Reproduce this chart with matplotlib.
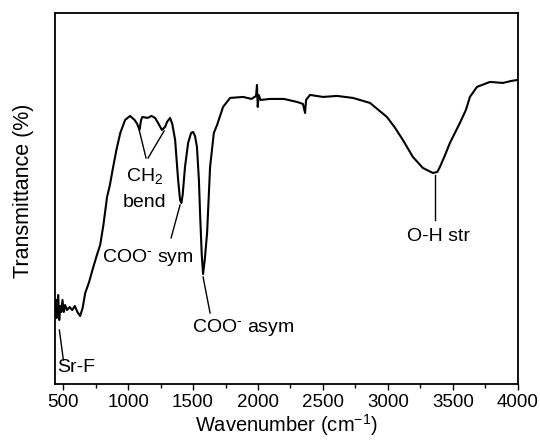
import matplotlib
matplotlib.use("Agg")
import matplotlib.pyplot as plt
from matplotlib.ticker import MultipleLocator

plt.rcParams['font.family'] = ['Liberation Sans', 'DejaVu Sans']
plt.rcParams['mathtext.fontset'] = 'custom'
plt.rcParams['mathtext.rm'] = 'Liberation Sans'
plt.rcParams['mathtext.it'] = 'Liberation Sans:italic'
plt.rcParams['mathtext.bf'] = 'Liberation Sans:bold'

wavenumber = [438, 445, 450, 455, 462, 470, 478, 485, 495, 505, 515, 530, 550, 570, 590, 610, 631,
              650, 670, 700, 730, 760, 785, 810, 830, 838, 860, 885, 910, 940, 977, 1015, 1050,
              1070, 1088, 1100, 1110, 1150, 1180, 1208, 1235, 1260, 1285, 1300, 1323, 1340, 1362,
              1385, 1400, 1410, 1420, 1438, 1462, 1485, 1500, 1515, 1530, 1545, 1555, 1567, 1577,
              1590, 1608, 1631, 1660, 1685, 1731, 1785, 1885, 1950, 1985, 1992, 1998, 2005, 2020,
              2092, 2200, 2300, 2346, 2362, 2370, 2400, 2500, 2608, 2731, 2862, 2992, 3050, 3115,
              3192, 3269, 3346, 3380, 3400, 3440, 3477, 3554, 3600, 3631, 3685, 3785, 3885, 3950, 4000]
ypix = [310, 300, 318, 305, 295, 320, 306, 312, 300, 312, 305, 310, 307, 310, 306, 312, 316,
        308, 293, 282, 268, 255, 245, 225, 205, 197, 185, 167, 150, 133, 120, 116, 120,
        124, 130, 120, 117, 118, 116, 118, 124, 130, 127, 122, 118, 124, 140,
        180, 200, 203, 195, 167, 143, 133, 132, 136, 147, 180, 217, 255, 274,
        260, 233, 167, 133, 125, 107, 98, 97, 99, 96, 85, 107, 95, 100,
        99, 99, 102, 104, 113, 100, 95, 97, 96, 98, 103, 117, 127, 140,
        157, 168, 173, 172, 167, 155, 143, 123, 110, 97, 87, 82, 83, 81, 80]
transmittance = [384 - v for v in ypix]

xticks = [500, 1000, 1500, 2000, 2500, 3000, 3500, 4000]

fig = plt.figure(figsize=(5.4, 4.45), dpi=100)
ax = fig.add_axes([0.102, 0.137, 0.857, 0.834])
ax.plot(wavenumber, transmittance, color='black', lw=1.5)
ax.set_xlim(438, 4000)
ax.set_ylim(0, 371)
ax.set_xticks(xticks)
ax.xaxis.set_minor_locator(MultipleLocator(250))
ax.set_yticks([])
ax.tick_params(axis='x', which='major', direction='out', length=4, width=1, labelsize=13.5, pad=3)
ax.tick_params(axis='x', which='minor', direction='out', length=3, width=1)
for s in ax.spines.values():
    s.set_linewidth(1.3)
ax.set_xlabel('Wavenumber (cm$^{-1}$)', fontsize=14.5, labelpad=1)
ax.set_ylabel('Transmittance (%)', fontsize=15.5)
ax.yaxis.set_label_coords(-0.045, 0.52)

fs = 14
lk = dict(color='black', lw=1)
ax.text(454, 17, 'Sr-F', fontsize=fs, ha='left', va='center')
ax.plot([471, 502], [54, 24], **lk)
ax.text(1125, 208, 'CH$_2$', fontsize=fs, ha='center', va='center')
ax.text(1130, 181, 'bend', fontsize=fs, ha='center', va='center')
ax.plot([1138, 1085], [226, 254], **lk)
ax.plot([1154, 1277], [226, 253], **lk)
ax.text(1154, 126, 'COO$^{\u2010}$ sym', fontsize=fs, ha='center', va='center')
ax.plot([1331, 1400], [146, 179], **lk)
ax.text(1888, 57, 'COO$^{\u2010}$ asym', fontsize=fs, ha='center', va='center')
ax.plot([1577, 1631], [107, 71], **lk)
ax.text(3388, 147, 'O-H str', fontsize=fs, ha='center', va='center')
ax.plot([3361, 3361], [209, 164], **lk)

fig.savefig('out.png', dpi=100)
